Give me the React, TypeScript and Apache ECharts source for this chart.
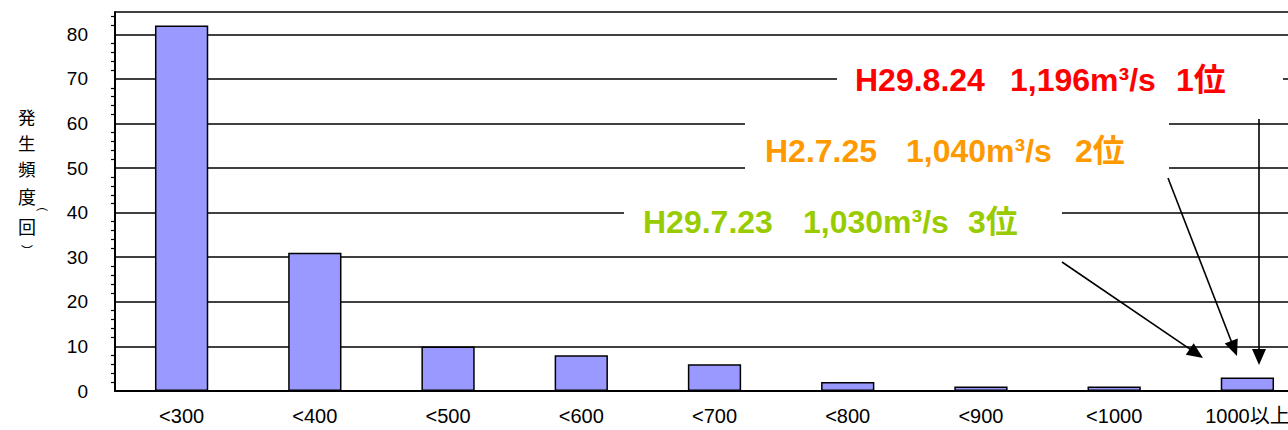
import React, { useEffect, useRef } from "react";
import * as echarts from "echarts";

const categories = ["<300", "<400", "<500", "<600", "<700", "<800", "<900", "<1000", "1000以上"];
const frequency = [82, 31, 10, 8, 6, 2, 1, 1, 3];
const yMin = 0;
const yMax = 85;
const yInterval = 10;

const FONT = "'Liberation Sans', 'Noto Sans CJK JP', sans-serif";
const JFONT = "'Noto Sans CJK JP', sans-serif";

function arrowHead(x1: number, y1: number, x2: number, y2: number, len: number, half: number) {
  const dx = x2 - x1;
  const dy = y2 - y1;
  const d = Math.sqrt(dx * dx + dy * dy);
  const ux = dx / d;
  const uy = dy / d;
  const bx = x2 - ux * len;
  const by = y2 - uy * len;
  return [
    [x2, y2],
    [bx - uy * half, by + ux * half],
    [bx + uy * half, by - ux * half],
  ];
}

function arrow(x1: number, y1: number, x2: number, y2: number) {
  const len = 16;
  const dx = x2 - x1;
  const dy = y2 - y1;
  const d = Math.sqrt(dx * dx + dy * dy);
  return [
    {
      type: "line",
      shape: { x1, y1, x2: x2 - (dx / d) * (len - 2), y2: y2 - (dy / d) * (len - 2) },
      style: { stroke: "#000", lineWidth: 1.6 },
      z: 20,
    },
    {
      type: "polygon",
      shape: { points: arrowHead(x1, y1, x2, y2, len, 7) },
      style: { fill: "#000" },
      z: 20,
    },
  ];
}

function label(x: number, y: number, text: string, color: string) {
  return {
    type: "text",
    x,
    y,
    z: 15,
    style: {
      text,
      fill: color,
      font: `bold 32px ${FONT}`,
      textVerticalAlign: "middle",
      textAlign: "left",
    },
  };
}

export default function App() {
  const ref = useRef<HTMLDivElement>(null);

  useEffect(() => {
    if (!ref.current) return;
    const chart = echarts.init(ref.current, undefined, { renderer: "svg" });
    const graphics: any[] = [
      // white label boxes
      { type: "rect", shape: { x: 837, y: 52, width: 446, height: 58 }, style: { fill: "#fff" }, z: 10 },
      { type: "rect", shape: { x: 745, y: 112, width: 424, height: 72 }, style: { fill: "#fff" }, z: 10 },
      { type: "rect", shape: { x: 624, y: 192, width: 438, height: 52 }, style: { fill: "#fff" }, z: 10 },
      label(855, 80, "H29.8.24", "#ff0000"),
      label(1010, 80, "1,196m³/s", "#ff0000"),
      label(1176, 80, "1位", "#ff0000"),
      label(765, 151, "H2.7.25", "#ff9900"),
      label(906, 151, "1,040m³/s", "#ff9900"),
      label(1075, 151, "2位", "#ff9900"),
      label(643, 222, "H29.7.23", "#99cc00"),
      label(803, 222, "1,030m³/s", "#99cc00"),
      label(968, 222, "3位", "#99cc00"),
      ...arrow(1062, 262, 1203, 358),
      ...arrow(1168, 178, 1237, 356),
      ...arrow(1259, 119, 1259, 365),
      {
        type: "text",
        x: 18,
        y: 103,
        style: {
          text: "{k|発}\n{k|生}\n{k|頻}\n{d|度}{a|︵}\n{m|回}\n{b|︶}",
          textAlign: "left",
          textVerticalAlign: "top",
          fill: "#000",
          rich: {
            k: { fontFamily: JFONT, fontSize: 17.5, lineHeight: 26, fill: "#000" },
            d: { fontFamily: JFONT, fontSize: 18, lineHeight: 30, fill: "#000" },
            a: { fontFamily: JFONT, fontSize: 12, lineHeight: 30, fill: "#000", verticalAlign: "bottom" },
            m: { fontFamily: JFONT, fontSize: 18, lineHeight: 30, fill: "#000" },
            b: { fontFamily: JFONT, fontSize: 12, lineHeight: 18, fill: "#000", padding: [0, 0, 0, 3] },
          },
        },
      },
    ];

    chart.setOption({
      animation: false,
      backgroundColor: "#fff",
      grid: { left: 115, right: 16, top: 12, bottom: 39, containLabel: false },
      xAxis: {
        type: "category",
        data: categories,
        boundaryGap: true,
        axisLine: { lineStyle: { color: "#000", width: 2 } },
        axisTick: { inside: true, length: 6, lineStyle: { color: "#000", width: 1.5 } },
        axisLabel: { color: "#000", fontSize: 20, fontFamily: FONT, margin: 15, interval: 0 },
      },
      yAxis: {
        type: "value",
        min: yMin,
        max: yMax,
        interval: yInterval,
        axisLine: { show: true, lineStyle: { color: "#000", width: 2 } },
        axisTick: { show: false },
        minorTick: { show: true, splitNumber: 5, length: 4, lineStyle: { color: "#000", width: 1.2 } },
        splitLine: { show: true, lineStyle: { color: "#000", width: 1.5 } },
        axisLabel: {
          color: "#000",
          fontSize: 19,
          fontFamily: FONT,
          margin: 27,
          formatter: (v: number) => (v > 80 ? "" : String(v)),
        },
      },
      series: [
        {
          type: "bar",
          data: frequency,
          barWidth: "40%",
          itemStyle: { color: "#9999ff", borderColor: "#000", borderWidth: 1.5 },
          z: 2,
        },
      ],
      graphic: graphics,
    });
    return () => chart.dispose();
  }, []);

  return (
    <div
      ref={ref}
      style={{ position: "fixed", left: 0, top: 0, width: 1330, height: 430 }}
    />
  );
}
